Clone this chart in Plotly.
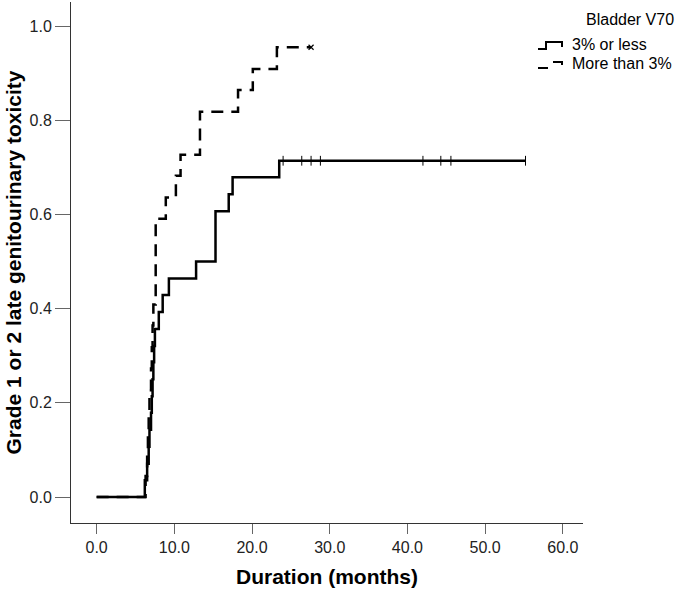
import plotly.graph_objects as go

# ---- data ----
# Group "3% or less" (solid): event times (months) and cumulative incidence after each event
low_times = [6.2, 6.5, 6.7, 6.8, 7.0, 7.1, 7.2, 7.3, 7.4, 7.5, 8.0, 8.5, 9.3, 12.8, 15.3, 17.0, 17.5, 23.5]
low_values = [0.036, 0.071, 0.107, 0.143, 0.179, 0.214, 0.250, 0.286, 0.321, 0.357, 0.393, 0.429,
              0.464, 0.500, 0.607, 0.643, 0.679, 0.714]
low_censor = [24.0, 26.4, 27.6, 28.8, 42.0, 44.3, 45.6, 55.2]
low_end = 55.2

# Group "More than 3%" (dashed)
high_times = [6.3, 6.5, 6.6, 6.7, 6.8, 7.0, 7.1, 7.2, 7.3, 7.6, 8.9, 10.2, 10.8, 13.3, 18.2, 20.1, 23.2]
high_values = [0.045, 0.091, 0.136, 0.182, 0.227, 0.273, 0.318, 0.364, 0.409, 0.591, 0.636, 0.682,
               0.727, 0.818, 0.864, 0.909, 0.955]
high_censor = [27.6]
high_end = 27.6

x_ticks = [0, 10, 20, 30, 40, 50, 60]
y_ticks = [0.0, 0.2, 0.4, 0.6, 0.8, 1.0]

series_names = ["3% or less", "More than 3%"]
legend_title = "Bladder V70"
x_title = "Duration (months)"
y_title = "Grade 1 or 2 late genitourinary toxicity"

FONT = "Liberation Sans, Arial, sans-serif"


def step_xy(times, values, end):
    xs = [0.0] + list(times) + [end]
    ys = [0.0] + list(values) + [values[-1]]
    return xs, ys


def value_at(t, times, values):
    v = 0.0
    for ti, vi in zip(times, values):
        if ti <= t:
            v = vi
    return v


fig = go.Figure()

hx, hy = step_xy(high_times, high_values, high_end)
fig.add_trace(go.Scatter(x=hx, y=hy, mode="lines", line_shape="hv",
                         line=dict(color="black", width=2.5, dash="12px,8px"),
                         name=series_names[1], showlegend=False, hoverinfo="skip"))
fig.add_trace(go.Scatter(x=high_censor, y=[value_at(t, high_times, high_values) for t in high_censor],
                         mode="markers", marker=dict(symbol="x-thin-open", size=5, color="black",
                                                     line=dict(width=1.2, color="black")),
                         showlegend=False, hoverinfo="skip"))

lx, ly = step_xy(low_times, low_values, low_end)
fig.add_trace(go.Scatter(x=lx, y=ly, mode="lines", line_shape="hv",
                         line=dict(color="black", width=2.5),
                         name=series_names[0], showlegend=False, hoverinfo="skip"))
fig.add_trace(go.Scatter(x=low_censor, y=[value_at(t, low_times, low_values) for t in low_censor],
                         mode="markers", marker=dict(symbol="line-ns-open", size=7, color="black",
                                                     line=dict(width=1, color="black")),
                         showlegend=False, hoverinfo="skip"))

W, H = 681, 594
L, R, T, B = 71, 98, 2, 71
pw, ph = W - L - R, H - T - B


def px(xp):
    return (xp - L) / pw


def py(yp):
    return (H - B - yp) / ph


# custom legend glyphs (step symbols) in paper coordinates
shapes = [
    dict(type="path", xref="paper", yref="paper",
         path=f"M {px(538)},{py(49)} L {px(546)},{py(49)} L {px(546)},{py(42)} L {px(562)},{py(42)} L {px(562)},{py(47)}",
         line=dict(color="black", width=2)),
    dict(type="line", xref="paper", yref="paper", x0=px(538), x1=px(548), y0=py(68), y1=py(68),
         line=dict(color="black", width=2)),
    dict(type="path", xref="paper", yref="paper",
         path=f"M {px(553)},{py(62)} L {px(562)},{py(62)} L {px(562)},{py(65)}",
         line=dict(color="black", width=2)),
]

annotations = [
    dict(text=legend_title, xref="paper", yref="paper", x=px(584), y=py(19), xanchor="left",
         yanchor="middle", showarrow=False, font=dict(family=FONT, size=16, color="black")),
    dict(text=series_names[0], xref="paper", yref="paper", x=px(570), y=py(45), xanchor="left",
         yanchor="middle", showarrow=False, font=dict(family=FONT, size=16, color="black")),
    dict(text=series_names[1], xref="paper", yref="paper", x=px(570), y=py(64), xanchor="left",
         yanchor="middle", showarrow=False, font=dict(family=FONT, size=16, color="black")),
]

fig.update_layout(
    width=W, height=H,
    margin=dict(l=L, r=R, t=T, b=B, pad=0),
    paper_bgcolor="white", plot_bgcolor="white",
    showlegend=False,
    font=dict(family=FONT, size=16, color="black"),
    shapes=shapes,
    annotations=annotations,
    xaxis=dict(range=[-3.3, 62.6], tickvals=x_ticks, tickformat=".1f",
               showgrid=False, zeroline=False, showline=True, linecolor="#333", linewidth=1,
               ticks="outside", ticklen=10, tickcolor="#666", tickwidth=1,
               tickfont=dict(family=FONT, size=16, color="#222"),
               title=dict(text=f"<b>{x_title}</b>", font=dict(family=FONT, size=21, color="black"),
                          standoff=14)),
    yaxis=dict(range=[-0.055, 1.051], tickvals=y_ticks, tickformat=".1f",
               showgrid=False, zeroline=False, showline=True, linecolor="#333", linewidth=1,
               ticks="outside", ticklen=15, tickcolor="#666", tickwidth=1,
               tickfont=dict(family=FONT, size=16, color="#222"),
               title=dict(text=f"<b>{y_title}</b>", font=dict(family=FONT, size=21, color="black"),
                          standoff=2)),
)

fig.write_html("out.html", config={"displayModeBar": False},
               post_script="document.body.style.margin='0px';")
